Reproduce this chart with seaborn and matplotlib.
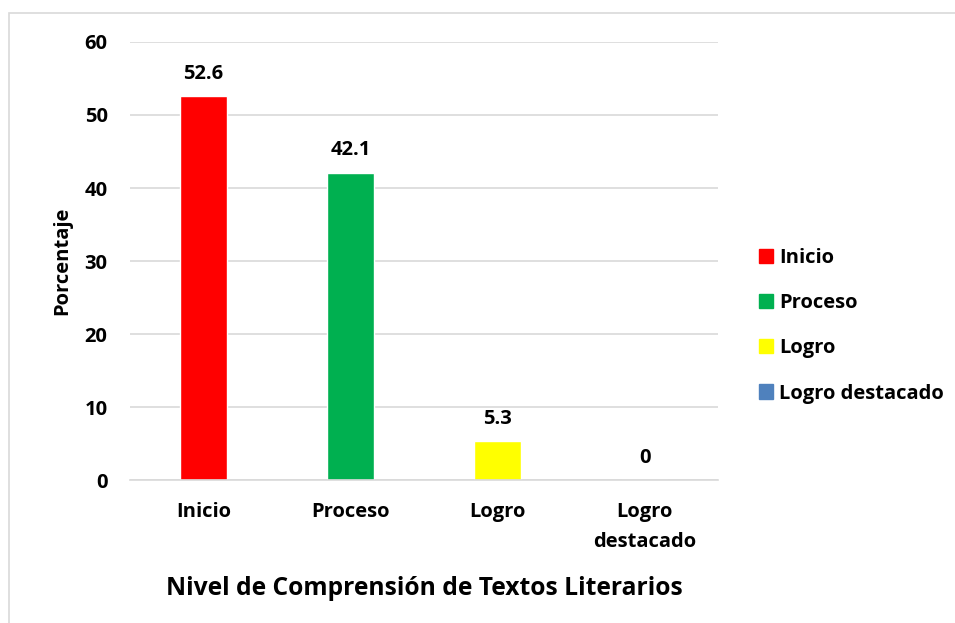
import matplotlib
matplotlib.use("Agg")
import matplotlib.pyplot as plt
import seaborn as sns
import pandas as pd
from matplotlib.patches import Rectangle

# Datos
niveles = ["Inicio", "Proceso", "Logro", "Logro destacado"]
etiquetas_x = ["Inicio", "Proceso", "Logro", "Logro\ndestacado"]
porcentajes = [52.6, 42.1, 5.3, 0]
colores = ["#FF0000", "#00B050", "#FFFF00", "#4F81BD"]

df = pd.DataFrame({"Nivel": niveles, "Porcentaje": porcentajes})

sns.set_style("white")
plt.rcParams["font.family"] = ["Open Sans", "DejaVu Sans"]
plt.rcParams["font.weight"] = "bold"
plt.rcParams["text.color"] = "black"
plt.rcParams["axes.labelcolor"] = "black"
plt.rcParams["xtick.color"] = "black"
plt.rcParams["ytick.color"] = "black"

fs = 14.5

fig = plt.figure(figsize=(9.55, 6.23), dpi=100)
ax = fig.add_axes([0.136, 0.2295, 0.616, 0.7031])

sns.barplot(data=df, x="Nivel", y="Porcentaje", hue="Nivel",
            palette=colores, width=0.32, dodge=False, saturation=1,
            ax=ax, legend=False)

ax.set_ylim(0, 60)
ax.set_xlim(-0.5, 3.5)
ax.set_yticks(range(0, 61, 10))
ax.yaxis.grid(True, color="#D9D9D9", linewidth=1.2)
ax.set_axisbelow(True)
for s in ["top", "right", "left"]:
    ax.spines[s].set_visible(False)
ax.spines["bottom"].set_color("#D9D9D9")
ax.spines["bottom"].set_linewidth(1.2)
ax.tick_params(axis="y", length=0, labelsize=fs, pad=16, labelcolor="black")
ax.tick_params(axis="x", length=0, labelsize=fs, pad=16, labelcolor="black")
ax.set_xticks(range(4))
ax.set_xticklabels(etiquetas_x, fontweight="bold", linespacing=1.65)
for lab in ax.get_yticklabels():
    lab.set_fontweight("bold")

for i, v in enumerate(porcentajes):
    txt = f"{v:g}"
    ax.text(i, v + 1.7, txt, ha="center", va="bottom", fontsize=fs,
            fontweight="bold", color="black")

ax.set_ylabel("Porcentaje", fontsize=fs, fontweight="bold", labelpad=9, color="black")
ax.set_xlabel("Nivel de Comprensión de Textos Literarios", fontsize=17.7,
              fontweight="bold", labelpad=17, color="black")

# Leyenda
handles = [Rectangle((0, 0), 1, 1, color=c) for c in colores]
leg = fig.legend(handles, niveles, loc="center left", bbox_to_anchor=(0.776, 0.477),
                 frameon=False, prop={"size": fs, "weight": "bold"},
                 handlelength=0.7, handleheight=0.7, handletextpad=0.3,
                 labelspacing=1.25, labelcolor="black")

# Borde del gráfico
fig.patches.append(Rectangle((9 / 955, -0.1), 1.0, 1 - 13 / 623 + 0.1,
                             transform=fig.transFigure, fill=False,
                             edgecolor="#D9D9D9", linewidth=1.2))

fig.savefig("out.png", dpi=100)
